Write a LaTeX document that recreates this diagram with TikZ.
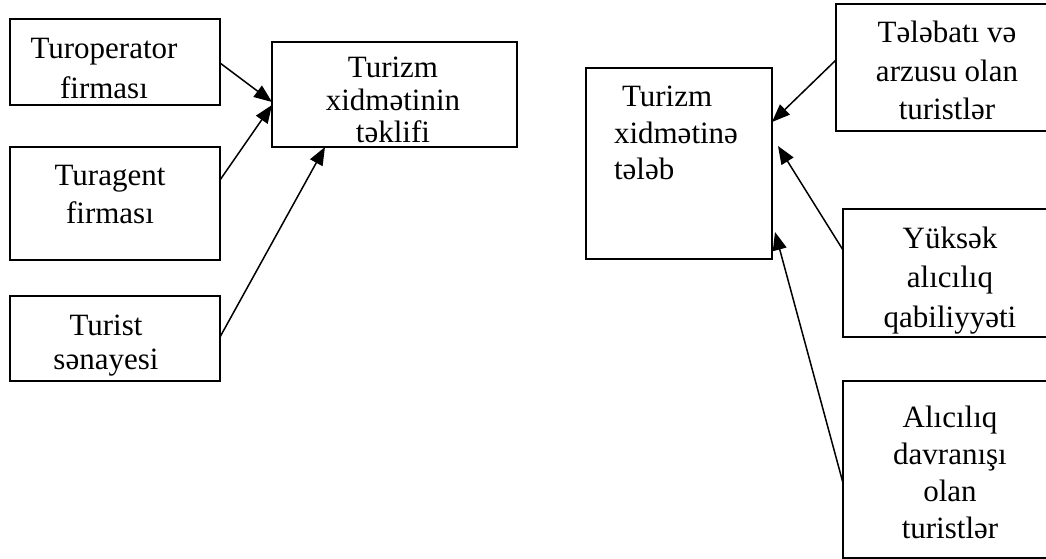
\documentclass[tikz,border=0pt]{standalone}
\usepackage{fontspec}
\setmainfont{Liberation Serif}
\usetikzlibrary{arrows.meta,calc}
\newcommand\boxtxt[2]{\parbox[t]{240pt}{\centering\fontsize{31}{#1}\selectfont #2}}
\newcommand\boxtxtl[2]{\parbox[t]{170pt}{\raggedright\fontsize{31}{#1}\selectfont #2}}
\begin{document}
\begin{tikzpicture}[x=1pt,y=-1pt,
  box/.style={draw, line width=1.8pt, inner sep=0pt, outer sep=0pt, anchor=north west},
  txt/.style={inner sep=0pt, outer sep=0pt, anchor=base},
  arr/.style={line width=1.5pt, -{Triangle[length=18pt,width=14pt]}}]
\useasboundingbox (0,0) rectangle (1046,559);
\clip (0,0) rectangle (1046,559);
% boxes
\node[box, minimum width=210pt, minimum height=86pt]  (b1) at (10,19)  {};
\node[box, minimum width=210pt, minimum height=113pt] (b2) at (10,147) {};
\node[box, minimum width=210pt, minimum height=85pt]  (b3) at (10,296) {};
\node[box, minimum width=245pt, minimum height=105pt] (b4) at (272,42) {};
\node[box, minimum width=186pt, minimum height=191pt] (b5) at (586,68) {};
\node[box, minimum width=222pt, minimum height=127pt] (b6) at (836,4)  {};
\node[box, minimum width=214pt, minimum height=128pt] (b7) at (843,209) {};
\node[box, minimum width=214pt, minimum height=177pt] (b8) at (843,381) {};
% texts
\node[txt] (t1) at (104,59)  {\boxtxt{40pt}{Turoperator\\firması}};
\node[txt] (t2) at (110,185) {\boxtxt{38pt}{Turagent\\firması}};
\node[txt] (t3) at (106,335) {\boxtxt{34pt}{Turist\\sənayesi}};
\node[txt] (t4) at (393,78)  {\boxtxt{32.5pt}{Turizm\\xidmətinin\\təklifi}};
\node[txt, anchor=base west] (t5) at (614,107) {\boxtxtl{36.5pt}{\hspace*{8pt}Turizm\\xidmətinə\\tələb}};
\node[txt] (t6) at (947,43)  {\boxtxt{38.5pt}{Tələbatı və\\arzusu olan\\turistlər}};
\node[txt] (t7) at (950,248) {\boxtxt{39.5pt}{Yüksək\\alıcılıq\\qabiliyyəti}};
\node[txt] (t8) at (950,427) {\boxtxt{37pt}{Alıcılıq\\davranışı\\olan\\turistlər}};
% arrows
\draw[arr] ($(b1.north east)+(0,44)$) -- ($(b4.north west)+(0,60)$);
\draw[arr] ($(b2.north east)+(0,33)$) -- ($(b4.north west)+(0,63)$);
\draw[arr] ($(b3.north east)+(0,41)$) -- ($(b4.south west)+(53,0)$);
\draw[arr] ($(b6.north west)+(0,56)$) -- ($(b5.north east)+(0,54)$);
\draw[arr] ($(b7.north west)+(0,41)$) -- ($(b5.north east)+(6,78)$);
\draw[arr] ($(b8.north west)+(0,102)$) -- ($(b5.north east)+(3,164)$);
\end{tikzpicture}
\end{document}
